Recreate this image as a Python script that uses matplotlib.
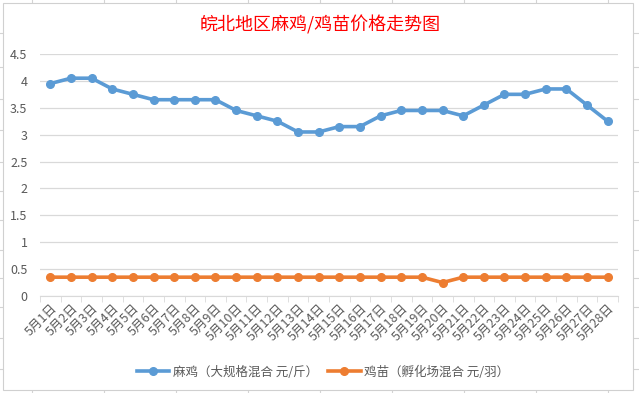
import matplotlib
matplotlib.use("Agg")
import matplotlib.pyplot as plt
from matplotlib.lines import Line2D
from matplotlib.patches import Rectangle

plt.rcParams['font.family'] = ['Noto Sans CJK SC', 'DejaVu Sans']

# ---- données ----
jours = [f"5月{i}日" for i in range(1, 29)]
maji = [3.95, 4.05, 4.05, 3.85, 3.75, 3.65, 3.65, 3.65, 3.65, 3.45,
        3.35, 3.25, 3.05, 3.05, 3.15, 3.15, 3.35, 3.45, 3.45, 3.45,
        3.35, 3.55, 3.75, 3.75, 3.85, 3.85, 3.55, 3.25]
jimiao = [0.35] * 19 + [0.25] + [0.35] * 8
nom_maji = "麻鸡（大规格混合 元/斤）"
nom_jimiao = "鸡苗（孵化场混合 元/羽）"
titre = "皖北地区麻鸡/鸡苗价格走势图"

W, H = 639, 393
fig = plt.figure(figsize=(W / 100, H / 100), dpi=100)

# fond façon tableur (sous le cadre du graphique)
grille = '#d4d4d4'
for px in range(32, W, 72):
    fig.add_artist(Line2D([px / W, px / W], [0, 1], color=grille, lw=0.8, zorder=-3))
for py in [33, 67, 99, 130, 162, 191, 220, 250, 278, 307, 338, 369]:
    fig.add_artist(Line2D([0, 1], [1 - py / H, 1 - py / H], color=grille, lw=0.8, zorder=-3))
fig.add_artist(Rectangle((3 / W, 1 - 390 / H), 630 / W, 387 / H,
                         facecolor='white', edgecolor='#d0d0d0', lw=0.8, zorder=-2))

ax = fig.add_axes([40 / W, 1 - 296 / H, 578 / W, 242 / H])
ax.set_facecolor('none')
x = range(len(jours))
ax.plot(x, maji, color='#5b9bd5', lw=2.6, marker='o', ms=5.5, label=nom_maji, zorder=3)
ax.plot(x, jimiao, color='#ed7d31', lw=2.6, marker='o', ms=5.5, label=nom_jimiao, zorder=3)

ax.set_xlim(-0.5, len(jours) - 0.5)
ax.set_ylim(0, 4.5)
ax.set_yticks([0, 0.5, 1, 1.5, 2, 2.5, 3, 3.5, 4, 4.5])
ax.set_yticklabels(['0', '0.5', '1', '1.5', '2', '2.5', '3', '3.5', '4', '4.5'])
ax.grid(axis='y', color='#d9d9d9', lw=0.9)
ax.set_axisbelow(True)
for s in ['top', 'right', 'left']:
    ax.spines[s].set_visible(False)
ax.spines['bottom'].set_color('#d9d9d9')
ax.tick_params(axis='y', length=0, labelsize=9, labelcolor='#595959', pad=9)

ax.set_xticks(list(x))
ax.set_xticklabels(jours, rotation=45, ha='right', rotation_mode='anchor',
                   fontsize=9, color='#595959')
ax.tick_params(axis='x', which='major', length=0, pad=4)
ax.set_xticks([i - 0.5 for i in range(len(jours) + 1)], minor=True)
ax.tick_params(axis='x', which='minor', length=4, color='#d9d9d9')

fig.text(320 / W, 1 - 25 / H, titre, color='red', fontsize=13, fontweight='medium',
         ha='center', va='center')

ax.legend(loc='center', bbox_to_anchor=(323 / W, 1 - 372 / H), bbox_transform=fig.transFigure,
          ncol=2, frameon=False, fontsize=9, handlelength=2.6, columnspacing=0.8,
          handletextpad=0.3, labelcolor='#595959')

fig.savefig('out.png', dpi=100)
